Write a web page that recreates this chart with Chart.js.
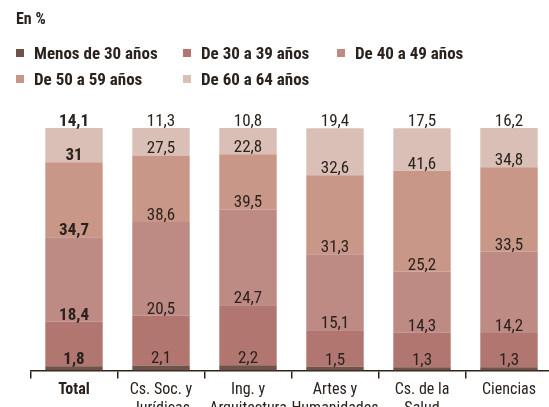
<!DOCTYPE html>
<html><head><meta charset="utf-8">
<script src="https://cdn.jsdelivr.net/npm/chart.js@4.4.1/dist/chart.umd.min.js"></script>
<style>
html,body{margin:0;padding:0;width:549px;height:407px;overflow:hidden;background:#fff;}
#wrap{position:relative;width:549px;height:407px;overflow:hidden;}
canvas{position:absolute;left:0;top:0;}
.t{position:absolute;font-family:"Liberation Sans Narrow","Roboto Condensed","DejaVu Sans Condensed",sans-serif;color:#2b221e;white-space:nowrap;line-height:20px;}
.sq{position:absolute;width:8px;height:8px;}
</style>
</head><body>
<div id="wrap">
<canvas id="c" width="556" height="407"></canvas>
<div id="legend"></div>
</div>
<script>
const categories = [["Total"],["Cs. Soc. y","Jurídicas"],["Ing. y","Arquitectura"],["Artes y","Humanidades"],["Cs. de la","Salud"],["Ciencias"]];
const seriesNames = ["Menos de 30 años","De 30 a 39 años","De 40 a 49 años","De 50 a 59 años","De 60 a 64 años"];
const menos30 = [1.8,2.1,2.2,1.5,1.3,1.3];
const de30a39 = [18.4,20.5,24.7,15.1,14.3,14.2];
const de40a49 = [34.7,38.6,39.5,31.3,25.2,33.5];
const de50a59 = [31,27.5,22.8,32.6,41.6,34.8];
const de60a64 = [14.1,11.3,10.8,19.4,17.5,16.2];
const seriesValues = [menos30,de30a39,de40a49,de50a59,de60a64];
const seriesColors = ["#6f5248","#b0766f","#bd8a84","#c99787","#d9bfb5"];
const unitLabel = "En %";

const FONT = '"Liberation Sans Narrow","Roboto Condensed","DejaVu Sans Condensed",sans-serif';
const TXT = '#2b221e';

// HTML legend
const lg = document.getElementById('legend');
const legPos = [[16,52.5],[183,52.5],[337,52.5],[16,79],[183,79]];
let h = '<div class="t" style="left:16px;top:9px;font-size:16px;font-weight:bold;">'+unitLabel+'</div>';
seriesNames.forEach((n,i)=>{
  const [x,y]=legPos[i];
  h += '<div class="sq" style="left:'+x+'px;top:'+(y-4)+'px;background:'+seriesColors[i]+'"></div>';
  h += '<div class="t" style="left:'+(x+18)+'px;top:'+(y-10)+'px;font-size:17px;font-weight:bold;">'+n+'</div>';
});
lg.innerHTML = h;

const fmt = v => String(v).replace('.', ',');

const labelPlugin = {
  id:'segLabels',
  afterDatasetsDraw(chart){
    const ctx = chart.ctx;
    ctx.save();
    ctx.textAlign='center';
    ctx.textBaseline='alphabetic';
    chart.data.datasets.forEach((ds,di)=>{
      const meta = chart.getDatasetMeta(di);
      meta.data.forEach((bar,i)=>{
        ctx.font = (i===0?'bold ':'')+'17px '+FONT;
        ctx.fillStyle = TXT;
        ctx.fillText(fmt(ds.data[i]), bar.x, bar.y-2);
      });
    });
    ctx.restore();
  }
};

new Chart(document.getElementById('c'),{
  type:'bar',
  data:{
    labels:categories,
    datasets:seriesValues.map((vals,i)=>({
      label:seriesNames[i],
      data:vals,
      backgroundColor:seriesColors[i],
      borderWidth:0,
      barPercentage:0.66,
      categoryPercentage:1
    }))
  },
  options:{
    responsive:false,
    animation:false,
    devicePixelRatio:1,
    layout:{padding:{left:30.5,right:3.5,top:128,bottom:0}},
    plugins:{legend:{display:false},tooltip:{enabled:false}},
    scales:{
      x:{
        stacked:true,
        afterFit(s){ s.height = 36.5; },
        border:{display:true,color:'#2b221e',width:1.5},
        grid:{offset:true,drawOnChartArea:false,drawTicks:true,tickLength:8,color:'#2b221e',lineWidth:1.5},
        ticks:{
          color:TXT,
          padding:1.5,
          maxRotation:0,
          autoSkip:false,
          font:(c)=>({family:FONT,size:16,weight:(c.index===0?'bold':'normal'),lineHeight:'19px'})
        }
      },
      y:{stacked:true,display:false,min:0,max:100}
    }
  },
  plugins:[labelPlugin]
});
</script>
</body></html>
